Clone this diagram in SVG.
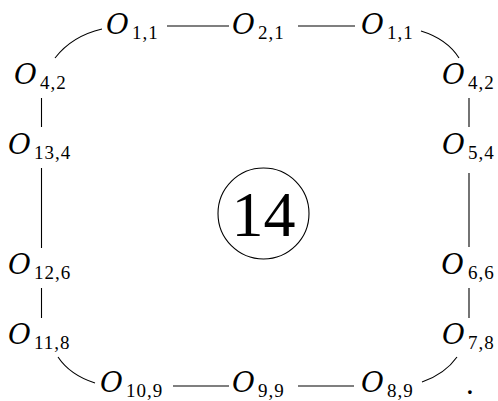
<svg xmlns="http://www.w3.org/2000/svg" width="498" height="401" viewBox="0 0 498 401">
<style>
.o{font-family:"DejaVu Serif","Liberation Serif",serif;font-style:italic;font-size:28px;fill:#000}
.s{font-family:"Liberation Serif",serif;font-size:19px;letter-spacing:1px;fill:#000}
.big{font-family:"Liberation Serif",serif;font-size:64px;fill:#000}
.c path,.c line{stroke:#000;stroke-width:1.1;fill:none}
</style>
<rect width="498" height="401" fill="#fff"/>
<g id="connectors" class="c">
<line x1="167" y1="26" x2="229" y2="26"/>
<line x1="298" y1="26" x2="355" y2="26"/>
<line x1="173" y1="386" x2="229" y2="386"/>
<line x1="298" y1="386" x2="354" y2="386"/>
<line x1="41.5" y1="98" x2="41.5" y2="127"/>
<line x1="41.5" y1="168" x2="41.5" y2="248"/>
<line x1="41.5" y1="288" x2="41.5" y2="318"/>
<line x1="469" y1="98" x2="469" y2="127"/>
<line x1="469" y1="173" x2="469" y2="247"/>
<line x1="469" y1="288" x2="469" y2="318"/>
<path d="M102,29 Q72,36 55,58"/>
<path d="M421,31 Q447,39 459,58"/>
<path d="M58,357 Q70,375 95,383"/>
<path d="M422,382 Q445,374 457,357"/>
</g>
<g id="n_top1"><text class="o" x="106" y="34">O</text><text class="s" x="132" y="39">1,1</text></g>
<g id="n_top2"><text class="o" x="232" y="34">O</text><text class="s" x="258" y="39">2,1</text></g>
<g id="n_top3"><text class="o" x="361" y="34">O</text><text class="s" x="387" y="39">1,1</text></g>
<g id="n_l1"><text class="o" x="14" y="84">O</text><text class="s" x="40" y="89">4,2</text></g>
<g id="n_l2"><text class="o" x="8" y="154">O</text><text class="s" x="34" y="159">13,4</text></g>
<g id="n_l3"><text class="o" x="8" y="274">O</text><text class="s" x="34" y="279">12,6</text></g>
<g id="n_l4"><text class="o" x="8" y="344">O</text><text class="s" x="34" y="349">11,8</text></g>
<g id="n_b1"><text class="o" x="100" y="392">O</text><text class="s" x="126" y="397">10,9</text></g>
<g id="n_b2"><text class="o" x="232" y="392">O</text><text class="s" x="258" y="397">9,9</text></g>
<g id="n_b3"><text class="o" x="361" y="392">O</text><text class="s" x="387" y="397">8,9</text></g>
<g id="n_r1"><text class="o" x="442" y="84">O</text><text class="s" x="468" y="89">4,2</text></g>
<g id="n_r2"><text class="o" x="442" y="154">O</text><text class="s" x="468" y="159">5,4</text></g>
<g id="n_r3"><text class="o" x="441" y="274" style="font-family:'Liberation Serif',serif;font-size:31px">O</text><text class="s" x="468" y="279">6,6</text></g>
<g id="n_r4"><text class="o" x="442" y="344">O</text><text class="s" x="468" y="349">7,8</text></g>
<g id="center"><circle cx="263.5" cy="213.5" r="45.5" fill="none" stroke="#000" stroke-width="1.1"/><text class="big" x="263.5" y="236" text-anchor="middle">14</text></g>
<text class="big" x="466" y="394" style="font-size:31px">.</text>
</svg>
